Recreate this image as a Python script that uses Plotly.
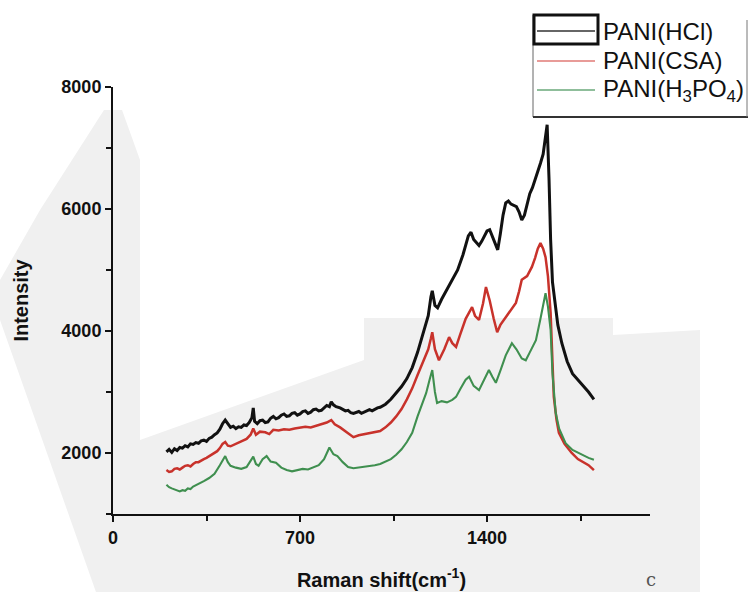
import plotly.graph_objects as go

# Raman shift (cm-1) and intensity readings for each doped PANI sample
shift_hcl = [200, 210, 220, 230, 240, 250, 260, 270, 280, 290, 300, 310, 320, 330, 340, 350,
             360, 370, 380, 390, 400, 410, 420, 430, 440, 450, 460, 470, 480, 490, 500, 510,
             520, 525, 530, 540, 550, 560, 570, 580, 590, 600, 610, 620, 630, 640, 650, 660,
             670, 680, 690, 700, 710, 720, 730, 740, 750, 760, 770, 780, 790, 800, 810, 817,
             825, 835, 850, 860, 870, 880, 890, 900, 910, 920, 930, 940, 950, 960, 970, 980,
             990, 1000, 1020, 1040, 1060, 1080, 1100, 1120, 1140, 1160, 1180, 1190, 1195, 1205,
             1215, 1230, 1250, 1270, 1290, 1310, 1330, 1340, 1350, 1360, 1370, 1380, 1390, 1400,
             1410, 1420, 1430, 1440, 1450, 1460, 1470, 1480, 1490, 1500, 1510, 1520, 1530, 1540,
             1550, 1560, 1570, 1580, 1590, 1600, 1610, 1620, 1625, 1632, 1638, 1645, 1655, 1665,
             1680, 1700, 1720, 1740, 1760, 1780, 1800]
int_hcl = [2020, 2060, 2010, 2070, 2040, 2090, 2080, 2120, 2100, 2150, 2140, 2170, 2160, 2200,
           2210, 2190, 2240, 2260, 2300, 2330, 2390, 2480, 2540, 2470, 2420, 2440, 2400, 2430,
           2420, 2460, 2450, 2500, 2580, 2740, 2520, 2480, 2530, 2540, 2500, 2510, 2570, 2600,
           2560, 2580, 2620, 2640, 2600, 2610, 2650, 2660, 2620, 2640, 2680, 2690, 2650, 2670,
           2710, 2720, 2690, 2700, 2740, 2780, 2760, 2840, 2790, 2760, 2740, 2720, 2690, 2700,
           2660, 2650, 2670, 2680, 2650, 2670, 2700, 2710, 2690, 2720, 2740, 2750, 2800, 2880,
           2990, 3090, 3220, 3400, 3650, 3950, 4250, 4560, 4660, 4420, 4380, 4520, 4680, 4850,
           5000, 5250, 5560, 5620, 5500, 5450, 5400, 5470, 5550, 5640, 5660, 5550, 5420, 5330,
           5600, 5900, 6100, 6130, 6080, 6060, 6040, 5950, 5820, 5900, 6100, 6250, 6350, 6480,
           6600, 6750, 6900, 7200, 7380, 6500, 5500, 4800, 4400, 4100, 3800, 3500, 3300, 3200,
           3100, 3000, 2880]

shift_csa = [200, 210, 220, 230, 240, 250, 260, 270, 280, 290, 300, 310, 320, 330, 340, 350,
             360, 370, 380, 390, 400, 410, 420, 430, 440, 460, 480, 500, 515, 525, 535, 550,
             570, 585, 600, 620, 640, 660, 680, 700, 720, 740, 760, 780, 800, 817, 830, 850,
             870, 890, 900, 920, 940, 960, 980, 1000, 1020, 1040, 1060, 1080, 1100, 1120, 1140,
             1160, 1180, 1190, 1195, 1205, 1220, 1240, 1258, 1270, 1284, 1300, 1320, 1344, 1355,
             1370, 1385, 1396, 1410, 1425, 1438, 1450, 1470, 1490, 1508, 1520, 1530, 1550, 1568,
             1580, 1590, 1600, 1610, 1619, 1628, 1638, 1645, 1650, 1660, 1669, 1690, 1717, 1740,
             1760, 1780, 1800]
int_csa = [1720, 1690, 1700, 1740, 1750, 1730, 1760, 1790, 1800, 1780, 1820, 1850, 1850, 1880,
           1900, 1920, 1950, 1970, 2000, 2030, 2080, 2150, 2180, 2120, 2110, 2150, 2200, 2230,
           2300, 2400, 2300, 2350, 2340, 2310, 2380, 2370, 2390, 2380, 2400, 2410, 2430, 2420,
           2450, 2470, 2500, 2540, 2470, 2420, 2360, 2300, 2260, 2290, 2310, 2330, 2340, 2360,
           2420, 2500, 2600, 2720, 2880, 3060, 3280, 3500, 3700, 3880, 3980, 3700, 3520, 3700,
           3900, 3800, 3740, 3950, 4200, 4390, 4250, 4180, 4450, 4720, 4500, 4200, 3980, 4100,
           4230, 4350, 4460, 4650, 4840, 4900, 5050, 5200, 5350, 5440, 5350, 5210, 4900, 4300,
           3500, 2920, 2550, 2330, 2150, 2000, 1900, 1850, 1800, 1720]

shift_h3po4 = [200, 210, 220, 230, 240, 250, 260, 270, 280, 290, 300, 320, 340, 360, 380, 400,
               410, 420, 430, 440, 460, 480, 500, 515, 525, 535, 545, 560, 575, 590, 610, 630,
               650, 670, 690, 710, 730, 750, 770, 790, 810, 825, 840, 860, 880, 900, 920, 940,
               960, 980, 1000, 1020, 1040, 1060, 1080, 1100, 1120, 1140, 1160, 1172, 1185, 1195,
               1205, 1213, 1230, 1250, 1270, 1284, 1300, 1320, 1333, 1350, 1370, 1390, 1407, 1420,
               1433, 1450, 1470, 1493, 1510, 1530, 1545, 1560, 1583, 1600, 1610, 1619, 1628, 1638,
               1645, 1657, 1670, 1694, 1720, 1750, 1780, 1800]
int_h3po4 = [1480, 1440, 1420, 1400, 1380, 1370, 1390, 1380, 1420, 1410, 1450, 1490, 1540, 1590,
             1660, 1800, 1880, 1950, 1850, 1790, 1760, 1740, 1770, 1860, 1940, 1820, 1790, 1900,
             1950, 1860, 1840, 1760, 1720, 1700, 1720, 1740, 1730, 1760, 1800, 1900, 2090, 1980,
             1950, 1850, 1770, 1750, 1760, 1780, 1790, 1800, 1820, 1860, 1900, 1970, 2060, 2180,
             2330, 2600, 2850, 2980, 3200, 3360, 3000, 2820, 2850, 2830, 2870, 2920, 3050, 3200,
             3250, 3100, 3030, 3200, 3360, 3250, 3150, 3350, 3600, 3800, 3700, 3550, 3520, 3650,
             3850, 4200, 4450, 4620, 4400, 4020, 3300, 2660, 2400, 2160, 2050, 1980, 1920, 1890]

x_ticks = [0, 700, 1400]
y_ticks = [2000, 4000, 6000, 8000]

series = [
    ("PANI(HCl)", shift_hcl, int_hcl, "#111111", 3.0, "#333333"),
    ("PANI(CSA)", shift_csa, int_csa, "#c8322b", 2.5, "#e07a76"),
    ("PANI(H<sub>3</sub>PO<sub>4</sub>)", shift_h3po4, int_h3po4, "#3f8f4f", 2.1, "#6aa87a"),
]

fig = go.Figure()
for name, xs, ys, color, width, _ in series:
    fig.add_trace(go.Scatter(x=xs, y=ys, mode="lines", name=name,
                             line=dict(color=color, width=width)))

L, R, T, B = 113, 101, 87, 78
W, H = 751, 592
pw, ph = W - L - R, H - T - B


def px(xp):
    return (xp - L) / pw


def py(yp):
    return (H - B - yp) / ph


def poly(points):
    return "M " + " L ".join(f"{px(a):.4f},{py(b):.4f}" for a, b in points) + " Z"


# faint grey tone of the printed page behind the plot
page_tone = [(104, 110), (122, 110), (140, 160), (140, 440), (364, 360), (364, 318),
             (613, 318), (613, 335), (700, 330), (700, 592), (96, 592), (0, 320), (0, 280),
             (40, 210)]
fig.add_shape(type="path", xref="paper", yref="paper", path=poly(page_tone),
              fillcolor="#f0f0f0", line=dict(width=0), layer="below")

tick_font = dict(family="Liberation Sans, Arial", size=18, color="#111111", weight="bold")
title_font = dict(family="Liberation Sans, Arial", size=20, color="#111111", weight="bold")

fig.update_layout(
    width=W, height=H,
    margin=dict(l=L, r=R, t=T, b=B, autoexpand=False),
    paper_bgcolor="white", plot_bgcolor="rgba(0,0,0,0)",
    showlegend=False,
    xaxis=dict(range=[0, 2010], tickvals=x_ticks, ticks="outside", ticklen=6, tickwidth=2,
               tickcolor="#111111", showline=True, linewidth=2, linecolor="#111111",
               showgrid=False, zeroline=False, tickfont=tick_font,
               minor=dict(dtick=350, tick0=0, ticks="outside", ticklen=5, tickwidth=2,
                          tickcolor="#111111", showgrid=False),
               title=dict(text="Raman shift(cm<sup>-1</sup>)", standoff=26, font=title_font)),
    yaxis=dict(range=[1000, 8000], tickvals=y_ticks, ticks="outside", ticklen=6, tickwidth=2,
               tickcolor="#111111", showline=True, linewidth=2, linecolor="#111111",
               showgrid=False, zeroline=False, tickfont=tick_font,
               minor=dict(dtick=1000, tick0=0, ticks="outside", ticklen=5, tickwidth=2,
                          tickcolor="#111111", showgrid=False),
               title=dict(text="Intensity", standoff=27, font=title_font)),
)

# legend block: frame, swatches and labels
legend_rows = [31, 61, 90]
fig.add_shape(type="line", xref="paper", yref="paper", x0=px(533), x1=px(533),
              y0=py(15), y1=py(117), line=dict(color="#666666", width=1))
fig.add_shape(type="line", xref="paper", yref="paper", x0=px(533), x1=px(748),
              y0=py(117), y1=py(117), line=dict(color="#333333", width=2))
fig.add_shape(type="line", xref="paper", yref="paper", x0=px(747), x1=px(747),
              y0=py(20), y1=py(117), line=dict(color="#777777", width=1))
fig.add_shape(type="rect", xref="paper", yref="paper",
              x0=px(534), x1=px(598), y0=py(44), y1=py(15),
              line=dict(color="#111111", width=3))
for (name, _, _, _, _, swatch), yrow in zip(series, legend_rows):
    fig.add_shape(type="line", xref="paper", yref="paper", x0=px(537), x1=px(595),
                  y0=py(yrow), y1=py(yrow), line=dict(color=swatch, width=1.3))
    fig.add_annotation(text=name, xref="paper", yref="paper", x=px(601), y=py(yrow),
                       xanchor="left", yanchor="middle", showarrow=False,
                       font=dict(family="Liberation Sans, Arial", size=24, color="#111111"))

# panel letter
fig.add_annotation(text="c", xref="paper", yref="paper", x=px(651), y=py(579),
                   xanchor="center", yanchor="middle", showarrow=False,
                   font=dict(family="DejaVu Serif", size=18, color="#555555"))

fig.write_html("out.html")
